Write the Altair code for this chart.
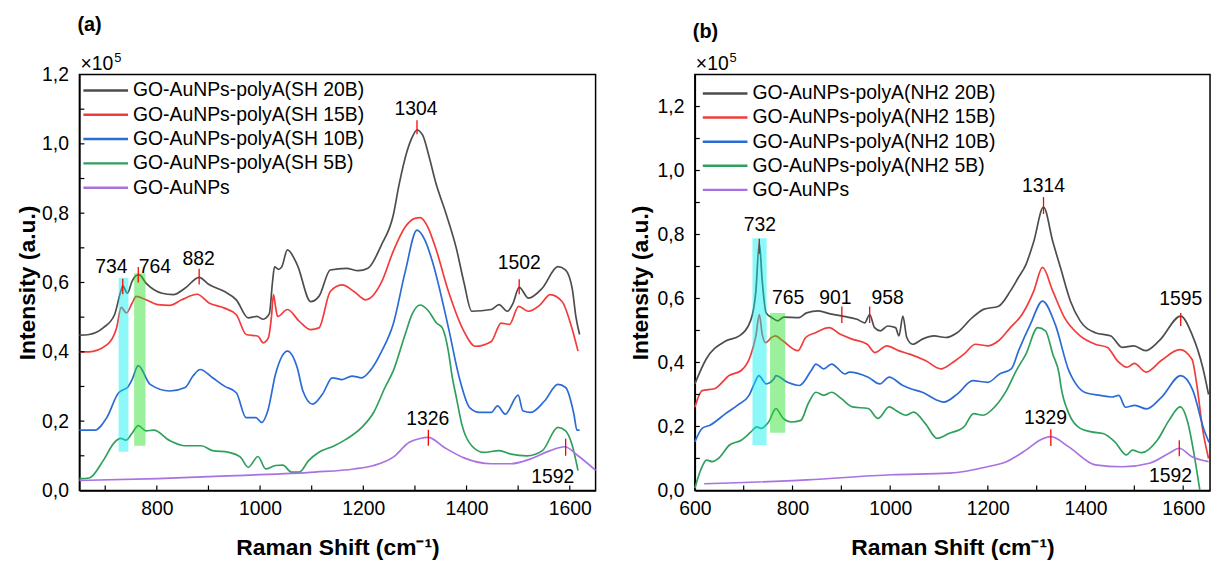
import altair as alt
import pandas as pd

FONT = "Liberation Sans"
W_A, W_B, H = 520, 519, 419
COLORS = ["#4d4d4d", "#f23b3b", "#2a6bd6", "#2f9f5e", "#a872e2"]

# ---------------- panel (a) ----------------
a_names = ["GO-AuNPs-polyA(SH 20B)", "GO-AuNPs-polyA(SH 15B)", "GO-AuNPs-polyA(SH 10B)",
           "GO-AuNPs-polyA(SH 5B)", "GO-AuNPs"]
a_x_20 = [650, 669, 696, 718, 730, 734, 743, 752, 760, 766, 779, 810, 832, 855, 882, 901, 931, 954, 977, 994,
          1006, 1018, 1024, 1028, 1036, 1042, 1053, 1072, 1098, 1114, 1136, 1167, 1190, 1209, 1235, 1258, 1269,
          1285, 1295, 1304, 1315, 1328, 1340, 1360, 1380, 1395, 1410, 1448, 1463, 1479, 1490, 1502, 1520, 1547,
          1577, 1592, 1605, 1612, 1619]
a_y_20 = [0.448, 0.45, 0.469, 0.507, 0.574, 0.59, 0.569, 0.603, 0.62, 0.622, 0.598, 0.569, 0.565, 0.584, 0.615,
          0.594, 0.574, 0.55, 0.498, 0.502, 0.494, 0.51, 0.60, 0.645, 0.638, 0.645, 0.694, 0.651, 0.545, 0.56,
          0.636, 0.641, 0.634, 0.641, 0.708, 0.794, 0.88, 0.98, 1.02, 1.04, 1.025, 0.96, 0.89, 0.80, 0.70, 0.60,
          0.517, 0.522, 0.536, 0.517, 0.54, 0.586, 0.555, 0.584, 0.646, 0.636, 0.58, 0.50, 0.45]
a_x_15 = [650, 668, 703, 722, 731, 741, 752, 760, 779, 802, 825, 848, 878, 901, 931, 954, 973, 996, 1006, 1016,
          1022, 1026, 1030, 1034, 1053, 1076, 1098, 1114, 1136, 1159, 1182, 1205, 1235, 1258, 1281, 1300, 1310,
          1325, 1340, 1365, 1395, 1417, 1448, 1467, 1483, 1501, 1520, 1543, 1562, 1585, 1604, 1616]
a_y_15 = [0.40, 0.40, 0.42, 0.469, 0.528, 0.512, 0.54, 0.56, 0.55, 0.536, 0.534, 0.55, 0.566, 0.541, 0.526,
          0.507, 0.45, 0.445, 0.426, 0.44, 0.50, 0.565, 0.53, 0.502, 0.522, 0.488, 0.464, 0.469, 0.574, 0.593,
          0.574, 0.55, 0.60, 0.69, 0.76, 0.785, 0.787, 0.76, 0.70, 0.574, 0.459, 0.416, 0.43, 0.483, 0.479,
          0.531, 0.517, 0.536, 0.565, 0.545, 0.469, 0.402]
a_x_10 = [650, 680, 703, 726, 734, 743, 752, 764, 787, 825, 855, 870, 884, 908, 931, 954, 973, 992, 1003, 1015,
          1030, 1053, 1072, 1083, 1102, 1121, 1140, 1159, 1178, 1197, 1213, 1235, 1258, 1281, 1304, 1320, 1334,
          1365, 1386, 1406, 1425, 1448, 1460, 1475, 1500, 1509, 1524, 1551, 1577, 1592, 1608, 1614, 1619]
a_y_10 = [0.174, 0.174, 0.21, 0.282, 0.29, 0.297, 0.32, 0.36, 0.306, 0.287, 0.297, 0.33, 0.349, 0.325, 0.301,
          0.282, 0.21, 0.21, 0.196, 0.23, 0.336, 0.402, 0.354, 0.287, 0.249, 0.278, 0.325, 0.32, 0.33, 0.325,
          0.345, 0.40, 0.48, 0.63, 0.751, 0.72, 0.66, 0.469, 0.325, 0.239, 0.225, 0.225, 0.244, 0.22, 0.275,
          0.23, 0.225, 0.258, 0.306, 0.297, 0.22, 0.174, 0.174]
a_x_5 = [650, 669, 696, 718, 730, 740, 752, 764, 779, 794, 825, 855, 886, 908, 939, 962, 977, 996, 1011, 1030,
         1044, 1061, 1076, 1094, 1114, 1144, 1167, 1197, 1220, 1242, 1258, 1281, 1295, 1310, 1325, 1342, 1353,
         1365, 1372, 1380, 1391, 1410, 1433, 1463, 1486, 1517, 1547, 1577, 1592, 1604, 1616]
a_y_5 = [0.034, 0.036, 0.086, 0.139, 0.15, 0.145, 0.165, 0.187, 0.172, 0.174, 0.144, 0.129, 0.129, 0.115, 0.11,
         0.096, 0.067, 0.098, 0.062, 0.072, 0.073, 0.053, 0.053, 0.086, 0.11, 0.129, 0.148, 0.182, 0.225, 0.297,
         0.345, 0.45, 0.51, 0.535, 0.52, 0.483, 0.469, 0.40, 0.33, 0.27, 0.19, 0.129, 0.11, 0.115, 0.105, 0.1,
         0.115, 0.182, 0.172, 0.134, 0.057]
a_x_go = [650, 802, 954, 1106, 1182, 1220, 1258, 1289, 1310, 1326, 1357, 1395, 1448, 1486, 1524, 1562, 1590,
          1616, 1650]
a_y_go = [0.029, 0.034, 0.043, 0.053, 0.062, 0.072, 0.096, 0.139, 0.15, 0.153, 0.124, 0.094, 0.077, 0.077,
          0.091, 0.115, 0.126, 0.1, 0.058]

a_peak_x = [734, 764, 882, 1304, 1502, 1326, 1592]
a_peak_lo = [0.566, 0.600, 0.594, 1.028, 0.566, 0.129, 0.100]
a_peak_hi = [0.611, 0.645, 0.640, 1.068, 0.609, 0.175, 0.149]
a_lab_text = ["734", "764", "882", "1304", "1502", "1326", "1592"]
a_lab_x = [712, 796, 881, 1302, 1502, 1325, 1567]
a_lab_y = [0.646, 0.646, 0.669, 1.10, 0.655, 0.207, 0.040]

a_band_x1 = [726, 756]
a_band_x2 = [745, 778]
a_band_y1 = [0.112, 0.129]
a_band_y2 = [0.614, 0.627]
a_band_col = ["#00f0f0", "#22e022"]

a_xlabels = [800, 1000, 1200, 1400, 1600]
a_xticks = [700, 800, 900, 1000, 1100, 1200, 1300, 1400, 1500, 1600]
a_ylabels = [0.0, 0.2, 0.4, 0.6, 0.8, 1.0, 1.2]
a_yticks = [0.1, 0.2, 0.3, 0.4, 0.5, 0.6, 0.7, 0.8, 0.9, 1.0, 1.1]

# ---------------- panel (b) ----------------
b_names = ["GO-AuNPs-polyA(NH2 20B)", "GO-AuNPs-polyA(NH2 15B)", "GO-AuNPs-polyA(NH2 10B)",
           "GO-AuNPs-polyA(NH2 5B)", "GO-AuNPs"]
b_x_20 = [600, 623, 663, 691, 714, 725, 732, 738, 746, 758, 770, 782, 813, 829, 853, 877, 902, 932, 948, 958,
          968, 980, 995, 1011, 1018, 1026, 1034, 1046, 1066, 1090, 1114, 1137, 1168, 1191, 1222, 1246, 1262,
          1278, 1294, 1314, 1333, 1349, 1369, 1389, 1420, 1452, 1475, 1499, 1523, 1551, 1595, 1618, 1640, 1652]
b_y_20 = [0.333, 0.41, 0.467, 0.483, 0.53, 0.623, 0.775, 0.654, 0.555, 0.54, 0.53, 0.542, 0.54, 0.555, 0.561,
          0.552, 0.545, 0.535, 0.524, 0.55, 0.509, 0.499, 0.514, 0.509, 0.483, 0.545, 0.478, 0.457, 0.473, 0.483,
          0.478, 0.493, 0.54, 0.566, 0.576, 0.623, 0.664, 0.706, 0.778, 0.886, 0.778, 0.695, 0.592, 0.53, 0.493,
          0.483, 0.447, 0.452, 0.437, 0.468, 0.545, 0.488, 0.385, 0.30]
b_x_15 = [600, 615, 640, 671, 695, 714, 725, 732, 738, 745, 757, 765, 780, 811, 827, 847, 875, 898, 922, 953,
          969, 993, 1017, 1040, 1072, 1104, 1128, 1151, 1175, 1199, 1222, 1246, 1270, 1294, 1312, 1333, 1357,
          1389, 1420, 1445, 1465, 1485, 1500, 1524, 1555, 1593, 1618, 1628, 1640, 1652]
b_y_15 = [0.26, 0.312, 0.318, 0.36, 0.375, 0.421, 0.483, 0.55, 0.488, 0.462, 0.478, 0.483, 0.468, 0.437, 0.478,
          0.493, 0.509, 0.488, 0.473, 0.457, 0.431, 0.452, 0.437, 0.426, 0.406, 0.38, 0.4, 0.426, 0.457, 0.452,
          0.468, 0.509, 0.55, 0.623, 0.697, 0.623, 0.54, 0.483, 0.457, 0.447, 0.406, 0.385, 0.397, 0.37, 0.406,
          0.44, 0.41, 0.33, 0.19, 0.10]
b_x_10 = [600, 615, 631, 663, 687, 711, 723, 731, 746, 762, 766, 790, 814, 838, 848, 864, 880, 908, 916, 955,
          979, 998, 1026, 1042, 1066, 1098, 1110, 1138, 1169, 1200, 1224, 1248, 1263, 1287, 1312, 1338, 1366,
          1374, 1398, 1430, 1454, 1468, 1482, 1501, 1525, 1556, 1595, 1620, 1643, 1653]
b_y_10 = [0.152, 0.194, 0.204, 0.24, 0.266, 0.297, 0.338, 0.359, 0.333, 0.349, 0.359, 0.338, 0.328, 0.374,
          0.395, 0.38, 0.395, 0.364, 0.37, 0.354, 0.333, 0.354, 0.328, 0.318, 0.307, 0.281, 0.276, 0.302, 0.343,
          0.338, 0.364, 0.38, 0.437, 0.519, 0.592, 0.519, 0.374, 0.349, 0.307, 0.297, 0.292, 0.297, 0.26, 0.266,
          0.255, 0.292, 0.359, 0.312, 0.188, 0.15]
b_x_5 = [600, 612, 624, 636, 648, 671, 695, 715, 727, 735, 751, 766, 781, 797, 817, 832, 848, 864, 880, 900,
         923, 955, 975, 998, 1017, 1032, 1048, 1072, 1096, 1120, 1151, 1171, 1190, 1214, 1238, 1258, 1278, 1302,
         1318, 1333, 1346, 1350, 1366, 1389, 1412, 1436, 1460, 1484, 1496, 1515, 1547, 1571, 1594, 1610, 1622,
         1634]
b_y_5 = [0.007, 0.064, 0.095, 0.09, 0.1, 0.142, 0.157, 0.183, 0.199, 0.194, 0.214, 0.256, 0.225, 0.214, 0.219,
         0.271, 0.307, 0.297, 0.307, 0.287, 0.261, 0.256, 0.225, 0.261, 0.245, 0.235, 0.245, 0.209, 0.163, 0.178,
         0.199, 0.24, 0.235, 0.261, 0.312, 0.374, 0.426, 0.509, 0.499, 0.426, 0.364, 0.323, 0.24, 0.194, 0.183,
         0.178, 0.152, 0.111, 0.126, 0.118, 0.157, 0.219, 0.261, 0.209, 0.116, 0.002]
b_x_go = [619, 830, 1003, 1121, 1199, 1238, 1278, 1310, 1329, 1365, 1420, 1476, 1531, 1571, 1592, 1618, 1652]
b_y_go = [0.021, 0.033, 0.049, 0.054, 0.074, 0.09, 0.126, 0.16, 0.168, 0.137, 0.08, 0.074, 0.085, 0.116,
          0.132, 0.105, 0.09]

b_peak_x = [732, 901, 958, 1314, 1595, 1329, 1592]
b_peak_lo = [0.740, 0.523, 0.523, 0.864, 0.514, 0.139, 0.107]
b_peak_hi = [0.787, 0.575, 0.575, 0.917, 0.555, 0.191, 0.157]
b_lab_text = ["732", "765", "901", "958", "1314", "1595", "1329", "1592"]
b_lab_x = [733, 791, 888, 995, 1314, 1595, 1318, 1574]
b_lab_y = [0.830, 0.600, 0.600, 0.600, 0.950, 0.597, 0.227, 0.046]

b_band_x1 = [718, 754]
b_band_x2 = [747, 785]
b_band_y1 = [0.142, 0.180]
b_band_y2 = [0.788, 0.555]
b_band_col = ["#00f0f0", "#22e022"]

b_xlabels = [600, 800, 1000, 1200, 1400, 1600]
b_xticks = [700, 800, 900, 1000, 1100, 1200, 1300, 1400, 1500, 1600]
b_ylabels = [0.0, 0.2, 0.4, 0.6, 0.8, 1.0, 1.2]
b_yticks = [0.1, 0.2, 0.3, 0.4, 0.5, 0.6, 0.7, 0.8, 0.9, 1.0, 1.1, 1.2]


def series_df(names, xs, ys):
    rows = []
    for k, (name, xv, yv) in enumerate(zip(names, xs, ys)):
        assert len(xv) == len(yv), name
        for x, y in zip(xv, yv):
            rows.append({"x": x, "y": y, "series": name, "k": k})
    return pd.DataFrame(rows)


def panel(names, xs, ys, xdom, ydom, width, peak_x, peak_lo, peak_hi, lab_text, lab_x, lab_y,
          bx1, bx2, by1, by2, bcol, xlabels, xticks, ylabels, yticks, letter, letter_y, title_x,
          leg_x, leg_y0, leg_pitch):
    xs_ = alt.Scale(domain=xdom, nice=False, zero=False)
    ys_ = alt.Scale(domain=ydom, nice=False, zero=False)
    df = series_df(names, xs, ys)

    lines = alt.Chart(df).mark_line(strokeWidth=1.7, interpolate="monotone").encode(
        x=alt.X("x:Q", scale=xs_, axis=alt.Axis(
            values=xlabels, format="d", title="Raman Shift (cm⁻¹)", titleFont=FONT, titleFontSize=23,
            titleFontWeight="bold", titleX=width / 2, titleY=58, titleBaseline="middle",
            labelFont=FONT, labelFontSize=19.5, labelPadding=9, labelFlush=False, ticks=False, tickSize=0,
            grid=False, domainColor="black", domainWidth=1.5, labelColor="black", titleColor="black")),
        y=alt.Y("y:Q", scale=ys_, axis=alt.Axis(
            values=ylabels, title="Intensity (a.u.)", titleFont=FONT, titleFontSize=23,
            titleFontWeight="bold", titleX=title_x, titleY=H / 2, titleBaseline="middle",
            titleAlign="center", titleAngle=-90,
            labelExpr="replace(format(datum.value, '.1f'), '.', ',')",
            labelFont=FONT, labelFontSize=19.5, labelPadding=11, labelFlush=False, ticks=False, tickSize=0,
            grid=False, domainColor="black", domainWidth=1.5, labelColor="black", titleColor="black")),
        color=alt.Color("series:N", sort=names, scale=alt.Scale(domain=names, range=COLORS), legend=None),
        detail="k:N",
    )

    bands = alt.Chart(pd.DataFrame({"x1": bx1, "x2": bx2, "y1": by1, "y2": by2, "c": bcol})).mark_rect(
        opacity=0.45).encode(
        x=alt.X("x1:Q", scale=xs_), x2="x2:Q", y=alt.Y("y1:Q", scale=ys_), y2="y2:Q",
        fill=alt.Fill("c:N", scale=None))

    peaks = alt.Chart(pd.DataFrame({"x": peak_x, "lo": peak_lo, "hi": peak_hi})).mark_rule(
        color="#ff0000", strokeWidth=1.3).encode(
        x=alt.X("x:Q", scale=xs_), y=alt.Y("lo:Q", scale=ys_), y2="hi:Q")

    labels = alt.Chart(pd.DataFrame({"x": lab_x, "y": lab_y, "t": lab_text})).mark_text(
        font=FONT, fontSize=19.5, color="black", align="center", baseline="middle").encode(
        x=alt.X("x:Q", scale=xs_), y=alt.Y("y:Q", scale=ys_), text="t:N")

    xt = alt.Chart(pd.DataFrame({"v": xticks})).mark_rule(color="black", strokeWidth=1.2).encode(
        x=alt.X("v:Q", scale=xs_), y=alt.value(H), y2=alt.value(H - 5))
    yt = alt.Chart(pd.DataFrame({"v": yticks})).mark_rule(color="black", strokeWidth=1.2).encode(
        y=alt.Y("v:Q", scale=ys_), x=alt.value(0), x2=alt.value(5))

    # legend (drawn by hand, one row per series)
    legend_layers = []
    for i, (name, col) in enumerate(zip(names, COLORS)):
        yrow = leg_y0 + i * leg_pitch
        one = pd.DataFrame({"t": [name]})
        legend_layers.append(alt.Chart(one).mark_rule(color=col, strokeWidth=2.5).encode(
            x=alt.value(leg_x), x2=alt.value(leg_x + 45), y=alt.value(yrow)))
        legend_layers.append(alt.Chart(one).mark_text(
            font=FONT, fontSize=19.5, color="black", align="left", baseline="middle").encode(
            text="t:N", x=alt.value(leg_x + 50), y=alt.value(yrow)))

    letter_t = alt.Chart(pd.DataFrame({"t": [letter]})).mark_text(
        font=FONT, fontSize=20, fontWeight="bold", align="left", baseline="middle", color="black").encode(
        text="t:N", x=alt.value(-2), y=alt.value(letter_y))
    anchor = alt.Chart(pd.DataFrame({"t": ["."]})).mark_text(
        font=FONT, fontSize=10, opacity=0, align="left", baseline="top").encode(
        text="t:N", x=alt.value(0), y=alt.value(-64))
    mult = alt.Chart(pd.DataFrame({"t": ["×10"]})).mark_text(
        font=FONT, fontSize=19.5, align="left", baseline="alphabetic", color="black").encode(
        text="t:N", x=alt.value(1), y=alt.value(-5))
    exp5 = alt.Chart(pd.DataFrame({"t": ["5"]})).mark_text(
        font=FONT, fontSize=13, align="left", baseline="alphabetic", color="black").encode(
        text="t:N", x=alt.value(35), y=alt.value(-13))

    return alt.layer(lines, bands, peaks, labels, xt, yt, *legend_layers,
                     letter_t, anchor, mult, exp5).properties(width=width, height=H)


pa = panel(a_names, [a_x_20, a_x_15, a_x_10, a_x_5, a_x_go], [a_y_20, a_y_15, a_y_10, a_y_5, a_y_go],
           [650, 1650], [0, 1.2], W_A, a_peak_x, a_peak_lo, a_peak_hi, a_lab_text, a_lab_x, a_lab_y,
           a_band_x1, a_band_x2, a_band_y1, a_band_y2, a_band_col, a_xlabels, a_xticks, a_ylabels, a_yticks,
           "(a)", -50, -52, 4, 16, 24.5)
pb = panel(b_names, [b_x_20, b_x_15, b_x_10, b_x_5, b_x_go], [b_y_20, b_y_15, b_y_10, b_y_5, b_y_go],
           [600, 1655], [0, 1.3], W_B, b_peak_x, b_peak_lo, b_peak_hi, b_lab_text, b_lab_x, b_lab_y,
           b_band_x1, b_band_x2, b_band_y1, b_band_y2, b_band_col, b_xlabels, b_xticks, b_ylabels, b_yticks,
           "(b)", -43, -55, 8, 19, 24.3)

chart = alt.hconcat(pa, pb, spacing=28).resolve_scale(
    x="independent", y="independent", color="independent").properties(
    padding={"left": 16, "top": 8, "right": 0, "bottom": 0}, background="white").configure_view(
    stroke="black", strokeWidth=1.5)

chart.save("out.html", embed_options={"renderer": "svg", "actions": False})
